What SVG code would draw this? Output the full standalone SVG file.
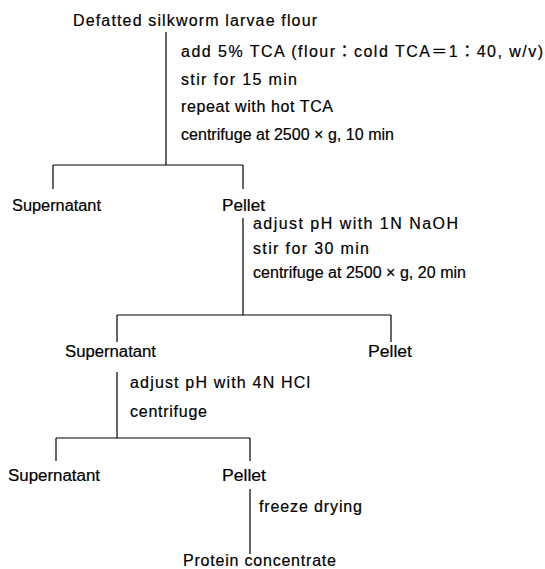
<svg xmlns="http://www.w3.org/2000/svg" width="545" height="569" viewBox="0 0 545 569">
<style>
text{font-family:"Liberation Sans","Noto Sans CJK JP",Arial,sans-serif;font-size:16px;fill:#000;stroke:#000;stroke-width:0.2}
.c line{stroke:#000;stroke-width:1.2;fill:none}
</style>
<rect width="545" height="569" fill="#fff"/>
<g class="c" id="connectors">
<line x1="166" y1="32" x2="166" y2="165"/>
<line x1="53" y1="165" x2="243" y2="165"/>
<line x1="53" y1="165" x2="53" y2="189"/>
<line x1="243" y1="165" x2="243" y2="189"/>
<line x1="243" y1="218" x2="243" y2="315"/>
<line x1="117" y1="315" x2="391" y2="315"/>
<line x1="117" y1="315" x2="117" y2="342"/>
<line x1="391" y1="315" x2="391" y2="342"/>
<line x1="117" y1="372" x2="117" y2="438"/>
<line x1="56" y1="438" x2="250" y2="438"/>
<line x1="56" y1="438" x2="56" y2="461"/>
<line x1="250" y1="438" x2="250" y2="461"/>
<line x1="250" y1="489" x2="250" y2="554"/>
</g>
<g id="n_flour"><text x="73" y="26" textLength="244" lengthAdjust="spacing">Defatted silkworm larvae flour</text></g>
<g id="step1">
<text x="181" y="57" textLength="362" lengthAdjust="spacing">add 5% TCA (flour：cold TCA＝1：40, w/v)</text>
<text x="181" y="85" textLength="116" lengthAdjust="spacing">stir for 15 min</text>
<text x="181" y="112" textLength="152" lengthAdjust="spacing">repeat with hot TCA</text>
<text x="181" y="140" textLength="213" lengthAdjust="spacing">centrifuge at 2500 × g, 10 min</text>
</g>
<g id="n_sup1"><text x="12" y="211" textLength="89" lengthAdjust="spacingAndGlyphs">Supernatant</text></g>
<g id="n_pel1"><text x="222" y="211" textLength="43" lengthAdjust="spacingAndGlyphs">Pellet</text></g>
<g id="step2">
<text x="253" y="229" textLength="205" lengthAdjust="spacing">adjust pH with 1N NaOH</text>
<text x="253" y="254" textLength="116" lengthAdjust="spacing">stir for 30 min</text>
<text x="253" y="278" textLength="213" lengthAdjust="spacing">centrifuge at 2500 × g, 20 min</text>
</g>
<g id="n_sup2"><text x="65" y="357" textLength="91" lengthAdjust="spacingAndGlyphs">Supernatant</text></g>
<g id="n_pel2"><text x="368" y="357" textLength="44" lengthAdjust="spacingAndGlyphs">Pellet</text></g>
<g id="step3">
<text x="130" y="388" textLength="180" lengthAdjust="spacing">adjust pH with 4N HCl</text>
<text x="130" y="417" textLength="77" lengthAdjust="spacing">centrifuge</text>
</g>
<g id="n_sup3"><text x="8" y="481" textLength="92" lengthAdjust="spacingAndGlyphs">Supernatant</text></g>
<g id="n_pel3"><text x="222" y="481" textLength="44" lengthAdjust="spacingAndGlyphs">Pellet</text></g>
<g id="step4"><text x="259" y="512" textLength="103" lengthAdjust="spacing">freeze drying</text></g>
<g id="n_protein"><text x="183" y="566" textLength="153" lengthAdjust="spacing">Protein concentrate</text></g>
</svg>
